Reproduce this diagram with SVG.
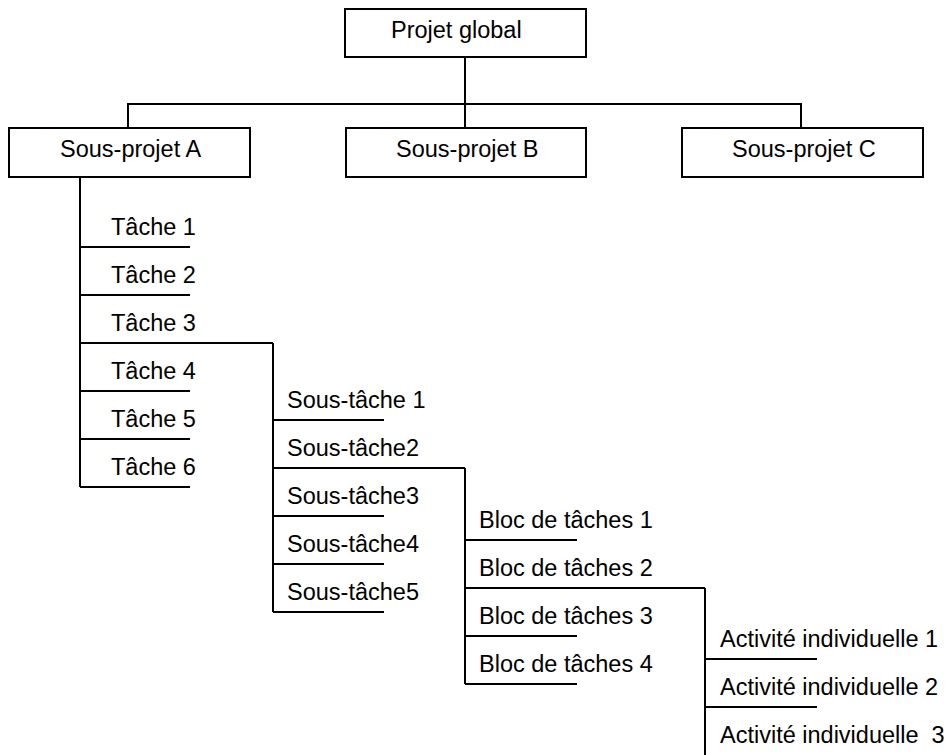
<svg xmlns="http://www.w3.org/2000/svg" width="951" height="755" viewBox="0 0 951 755">
<style>
.box{fill:#fff;stroke:#000;stroke-width:2}
.ln{fill:none;stroke:#000;stroke-width:2}
text{font-family:"Liberation Sans",Arial,sans-serif;font-size:23.5px;fill:#000;white-space:pre}
</style>
<rect width="951" height="755" fill="#fff"/>
<g id="connectors" class="ln">
<path d="M465,57V128M128,128V104H801V128"/>
<path d="M80,177V487M80,247H190M80,295H190M80,343H273M80,391H190M80,439H190M80,487H190"/>
<path d="M273,343V612M273,420H384M273,468H465M273,516H384M273,564H384M273,612H384"/>
<path d="M465,468V684M465,540H577M465,588H705M465,636H577M465,684H577"/>
<path d="M705,588V760M705,659H817M705,707H817"/>
</g>
<g id="projet-global"><rect class="box" x="345" y="9" width="241" height="48"/><text x="391" y="38">Projet global</text></g>
<g id="sous-projet-a"><rect class="box" x="9" y="128" width="241" height="49"/><text x="60" y="157">Sous-projet A</text></g>
<g id="sous-projet-b"><rect class="box" x="346" y="128" width="240" height="49"/><text x="396" y="157">Sous-projet B</text></g>
<g id="sous-projet-c"><rect class="box" x="682" y="128" width="241" height="49"/><text x="732" y="157">Sous-projet C</text></g>
<g id="tache-1"><text x="111" y="235">Tâche 1</text></g>
<g id="tache-2"><text x="111" y="283">Tâche 2</text></g>
<g id="tache-3"><text x="111" y="331">Tâche 3</text></g>
<g id="tache-4"><text x="111" y="379">Tâche 4</text></g>
<g id="tache-5"><text x="111" y="427">Tâche 5</text></g>
<g id="tache-6"><text x="111" y="475">Tâche 6</text></g>
<g id="sous-tache-1"><text x="287" y="408">Sous-tâche 1</text></g>
<g id="sous-tache-2"><text x="287" y="456">Sous-tâche2</text></g>
<g id="sous-tache-3"><text x="287" y="504">Sous-tâche3</text></g>
<g id="sous-tache-4"><text x="287" y="552">Sous-tâche4</text></g>
<g id="sous-tache-5"><text x="287" y="600">Sous-tâche5</text></g>
<g id="bloc-1"><text x="479" y="528">Bloc de tâches 1</text></g>
<g id="bloc-2"><text x="479" y="576">Bloc de tâches 2</text></g>
<g id="bloc-3"><text x="479" y="624">Bloc de tâches 3</text></g>
<g id="bloc-4"><text x="479" y="672">Bloc de tâches 4</text></g>
<g id="activite-1"><text x="720" y="647">Activité individuelle 1</text></g>
<g id="activite-2"><text x="720" y="695">Activité individuelle 2</text></g>
<g id="activite-3"><text x="720" y="743">Activité individuelle  3</text></g>
</svg>
